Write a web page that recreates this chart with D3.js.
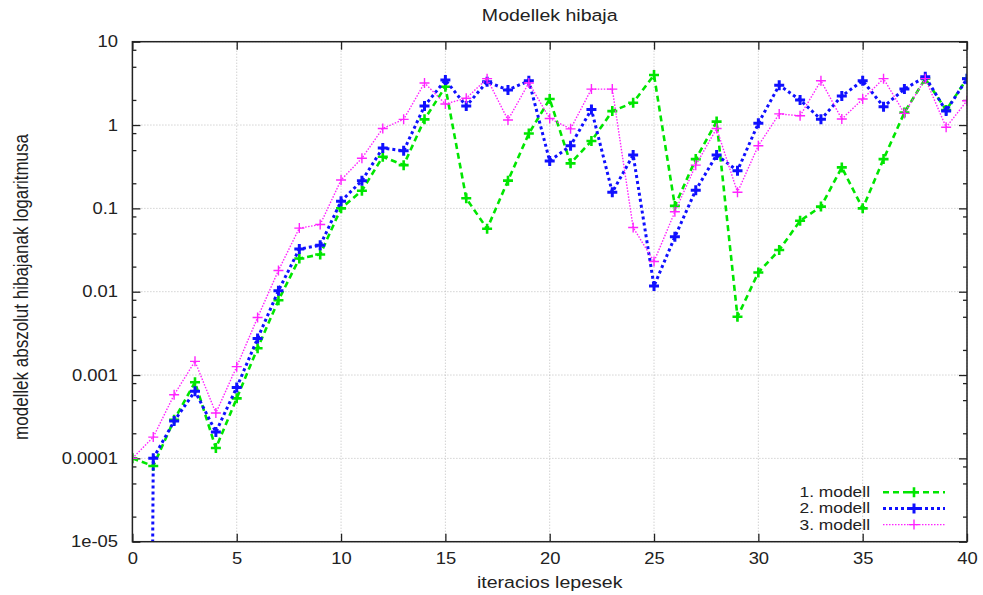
<!DOCTYPE html>
<html>
<head>
<meta charset="utf-8">
<script src="https://cdn.jsdelivr.net/npm/d3@7"></script>
<style>
  body { margin: 0; background: #fff; }
  text { font-family: "Liberation Sans", Arial, sans-serif; fill: #222; }
</style>
</head>
<body>
<svg id="chart" width="983" height="595"></svg>
<script>
// values (abs error, log scale)
const iterations = [0, 1, 2, 3, 4, 5, 6, 7, 8, 9, 10, 11, 12, 13, 14, 15, 16, 17, 18, 19, 20,
  21, 22, 23, 24, 25, 26, 27, 28, 29, 30, 31, 32, 33, 34, 35, 36, 37, 38, 39, 40];

const model1 = [1e-4, 8.1e-5, 2.9e-4, 8.2e-4, 1.33e-4, 5.25e-4, 2.1e-3, 7.9e-3, 0.025, 0.028,
  0.1, 0.163, 0.417, 0.33, 1.17, 2.88, 0.132, 0.057, 0.215, 0.79,
  2.05, 0.347, 0.643, 1.47, 1.85, 3.98, 0.107, 0.39, 1.1, 0.005,
  0.017, 0.0316, 0.071, 0.105, 0.31, 0.1, 0.39, 1.41, 3.6, 1.51, 3.6];

const model2 = [1e-40, 1e-4, 2.8e-4, 6.4e-4, 2.07e-4, 7.1e-4, 2.75e-3, 0.0103, 0.0325, 0.036,
  0.122, 0.215, 0.53, 0.49, 1.69, 3.47, 1.69, 3.3, 2.63, 3.4,
  0.37, 0.565, 1.54, 0.156, 0.437, 0.0117, 0.0457, 0.165, 0.437, 0.283,
  1.05, 3.0, 2.0, 1.17, 2.23, 3.4, 1.66, 2.7, 3.8, 1.47, 3.6];

const model3 = [1e-4, 1.8e-4, 5.8e-4, 1.46e-3, 3.5e-4, 1.26e-3, 4.9e-3, 0.018, 0.058, 0.064,
  0.219, 0.40, 0.91, 1.17, 3.2, 1.79, 2.1, 3.6, 1.15, 3.2,
  1.2, 0.9, 2.7, 2.7, 0.059, 0.023, 0.091, 0.33, 0.91, 0.156,
  0.565, 1.36, 1.29, 3.4, 1.18, 2.05, 3.6, 1.38, 3.6, 0.94, 1.96];

const seriesNames = ["1. modell", "2. modell", "3. modell"];
const xTickValues = [0, 5, 10, 15, 20, 25, 30, 35, 40];
const yTickValues = [10, 1, 0.1, 0.01, 0.001, 0.0001, 0.00001];
const yTickLabels = ["10", "1", "0.1", "0.01", "0.001", "0.0001", "1e-05"];

const series = [
  { name: seriesNames[0], values: model1, color: "#00e600", width: 2.6, dash: "6,4", mark: 2.6 },
  { name: seriesNames[1], values: model2, color: "#1010ff", width: 3, dash: "3,3", mark: 3 },
  { name: seriesNames[2], values: model3, color: "#ff22ff", width: 1.4, dash: "1.5,1.5", mark: 1.4 }
];

const stretch = "scale(1.15,1)";

const svg = d3.select("#chart");
const margin = { top: 41.7, right: 16, bottom: 53.3, left: 132.4 },
      width = +svg.attr("width") - margin.left - margin.right,
      height = +svg.attr("height") - margin.top - margin.bottom;

const g = svg.append("g").attr("transform", `translate(${margin.left},${margin.top})`);

const x = d3.scaleLinear().domain([0, 40]).range([0, width]);
const y = d3.scaleLog().domain([1e-5, 10]).range([height, 0]);

// grid
g.append("g").selectAll("line").data(xTickValues).join("line")
  .attr("x1", d => x(d)).attr("x2", d => x(d))
  .attr("y1", 0).attr("y2", height)
  .attr("stroke", "#bdbdbd").attr("stroke-dasharray", "1,2");
g.append("g").selectAll("line").data(yTickValues).join("line")
  .attr("x1", 0).attr("x2", width)
  .attr("y1", d => y(d)).attr("y2", d => y(d))
  .attr("stroke", "#bdbdbd").attr("stroke-dasharray", "1,2");

// minor log ticks at 2, 5, 8 of every decade
const minorTicks = [];
for (let k = -5; k < 1; k++) [2, 5, 8].forEach(m => minorTicks.push(m * Math.pow(10, k)));

const yLeft = g.append("g")
  .call(d3.axisLeft(y).tickValues(yTickValues).tickFormat((d, i) => yTickLabels[i]).tickSize(-8).tickPadding(12.5));
yLeft.selectAll("text").attr("transform", stretch).style("font-size", "16px");
g.append("g").call(d3.axisLeft(y).tickValues(minorTicks).tickFormat("").tickSize(-4));
g.append("g").attr("transform", `translate(${width},0)`)
  .call(d3.axisRight(y).tickValues(yTickValues).tickFormat("").tickSize(-8));
g.append("g").attr("transform", `translate(${width},0)`)
  .call(d3.axisRight(y).tickValues(minorTicks).tickFormat("").tickSize(-4));

const xBottom = g.append("g").attr("transform", `translate(0,${height})`)
  .call(d3.axisBottom(x).tickValues(xTickValues).tickSize(-8).tickPadding(11));
xBottom.selectAll("text").attr("transform", stretch).style("font-size", "16px");
g.append("g").call(d3.axisTop(x).tickValues(xTickValues).tickFormat("").tickSize(-8));

g.selectAll(".domain").remove();
g.selectAll(".tick line").attr("stroke", "#222").attr("stroke-width", 1.3);
g.selectAll(".tick text").attr("fill", "#222");

// lines
g.append("clipPath").attr("id", "plotClip")
  .append("rect").attr("width", width).attr("height", height);

const plot = g.append("g").attr("clip-path", "url(#plotClip)");
const cross = s => `M${-s},0H${s}M0,${-s}V${s}`;

series.forEach(s => {
  const line = d3.line()
    .x((d, i) => x(iterations[i]))
    .y(d => y(d));
  plot.append("path")
    .datum(s.values)
    .attr("fill", "none")
    .attr("stroke", s.color)
    .attr("stroke-width", s.width)
    .attr("stroke-dasharray", s.dash)
    .attr("d", line);
  plot.append("g").selectAll("path")
    .data(s.values.map((v, i) => [iterations[i], v]).filter(d => d[1] >= 1e-5))
    .join("path")
    .attr("transform", d => `translate(${x(d[0])},${y(d[1])})`)
    .attr("d", cross(5))
    .attr("stroke", s.color)
    .attr("stroke-width", s.mark)
    .attr("fill", "none");
});

// frame
g.append("rect").attr("width", width).attr("height", height)
  .attr("fill", "none").attr("stroke", "#222").attr("stroke-width", 1.5);

// legend
const legend = g.append("g").attr("transform", `translate(${width - 97},${450.5})`);
series.forEach((s, i) => {
  const row = legend.append("g").attr("transform", `translate(0,${i * 16.2})`);
  row.append("text")
    .attr("transform", "scale(1.2,1)")
    .attr("text-anchor", "end")
    .attr("dy", "0.35em")
    .style("font-size", "14.5px")
    .text(s.name);
  row.append("line")
    .attr("x1", 13).attr("x2", 75)
    .attr("stroke", s.color).attr("stroke-width", s.width)
    .attr("stroke-dasharray", s.dash);
  row.append("path")
    .attr("transform", "translate(44,0)")
    .attr("d", cross(5))
    .attr("stroke", s.color).attr("stroke-width", s.mark);
});

// titles
svg.append("text")
  .attr("transform", `translate(${margin.left + width / 2},21) ${stretch}`)
  .attr("text-anchor", "middle")
  .style("font-size", "17px")
  .text("Modellek hibaja");

svg.append("text")
  .attr("transform", `translate(${margin.left + width / 2},588) ${stretch}`)
  .attr("text-anchor", "middle")
  .style("font-size", "17px")
  .text("iteracios lepesek");

svg.append("text")
  .attr("transform", "translate(28,287) rotate(-90) scale(1,1.15)")
  .attr("text-anchor", "middle")
  .style("font-size", "17px")
  .text("modellek abszolut hibajanak logaritmusa");
</script>
</body>
</html>
